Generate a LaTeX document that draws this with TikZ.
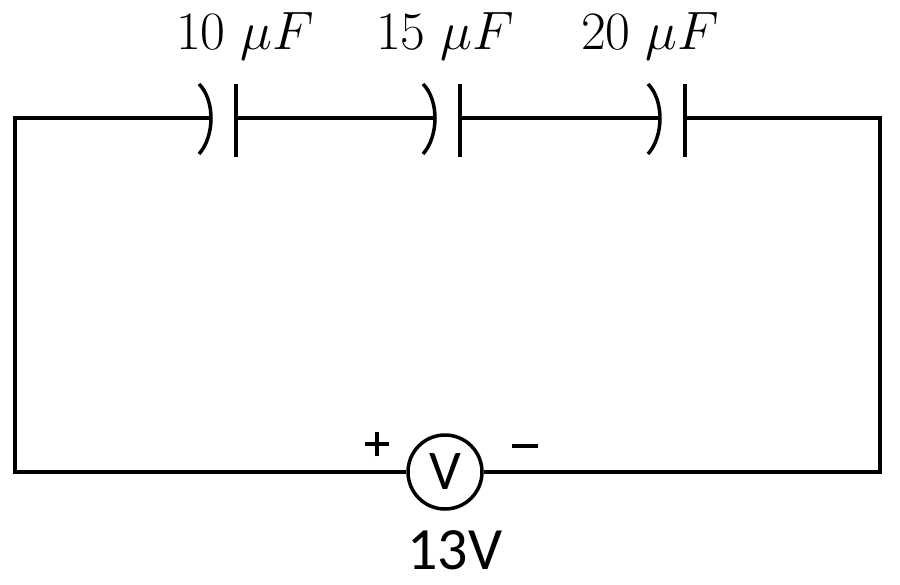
\documentclass[tikz,border=0pt]{standalone}
\usepackage{fix-cm}
\usepackage{fontspec}
\newfontfamily\calib{Carlito}
\begin{document}
\begin{tikzpicture}[x=1pt,y=-1pt,line width=3.5pt,
  lab/.style={font=\fontsize{54}{58}\selectfont},
  sf/.style={font=\calib\fontsize{56}{60}\selectfont},
  big/.style={font=\calib\fontsize{60}{64}\selectfont}]
\useasboundingbox (0,0) rectangle (900,584);
\coordinate (tl) at (15,118); \coordinate (tr) at (880,118);
\coordinate (bl) at (15,472); \coordinate (br) at (880,472);
\foreach \i/\cx/\px in {a/199/236,b/423/460,c/648/685}{
  \coordinate (\i c) at (\cx+12,118);
  \coordinate (\i p) at (\px,118);
  \draw (\cx,84) .. controls (\cx+16,100) and (\cx+16,136) .. (\cx,154);
  \draw (\px,84) -- (\px,157);
}
\node[circle,draw,minimum size=74pt,inner sep=0pt,sf] (V) at (445,472) {V};
\draw (ac) -- (tl) -- (bl) -- (V.west);
\draw (ap) -- (bc);
\draw (bp) -- (cc);
\draw (cp) -- (tr) -- (br) -- (V.east);
\node[lab] (l1) at (245,36) {$10\;\mu F$};
\node[lab] (l2) at (445,36) {$15\;\mu F$};
\node[lab] (l3) at (650,36) {$20\;\mu F$};
\node[inner sep=0pt] (pl) at (372,444) {\rlap{\rule[-1.75pt]{24pt}{3.5pt}}\hspace{10.25pt}\rule[-12pt]{3.5pt}{24pt}\hspace{10.25pt}};
\node[inner sep=0pt] (mi) at (525,446) {\rule{26pt}{3.5pt}};
\node[big] (v13) at (455,550) {13V};
\end{tikzpicture}
\end{document}
